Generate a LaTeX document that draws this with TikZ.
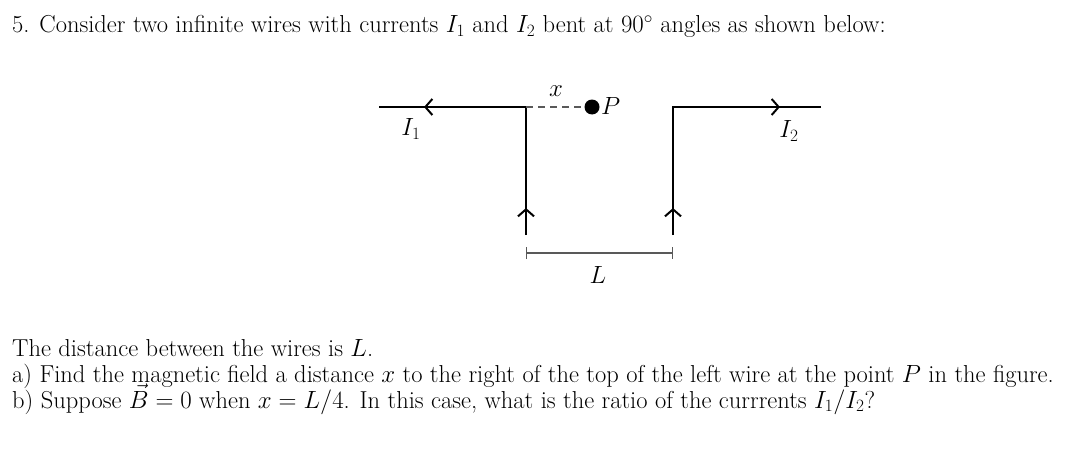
\documentclass[tikz,border=0pt]{standalone}
\usetikzlibrary{arrows.meta}
\begin{document}
\begin{tikzpicture}[x=1pt,y=-1pt,
  wire/.style={line width=2.6pt},
  warrow/.style={wire,-{Straight Barb[length=7pt,width=16pt,line width=2pt]}},
  txt/.style={anchor=base west,inner sep=0pt,font=\fontsize{24.5}{29}\selectfont},
  lab/.style={inner sep=0pt,font=\fontsize{27}{32}\selectfont}]
\useasboundingbox (0,0) rectangle (1082,452);
\coordinate (A1) at (379,107); \coordinate (C1) at (526,107); \coordinate (B1) at (526,235);
\coordinate (A2) at (821,107); \coordinate (C2) at (673,107); \coordinate (B2) at (673,235);
\coordinate (M1) at (424,107); \coordinate (V1) at (526,208);
\coordinate (M2) at (780,107); \coordinate (V2) at (673,208);
\draw[wire] (A1) -- (C1) -- (B1);
\draw[wire] (A2) -- (C2) -- (B2);
\draw[warrow] (C1) -- (M1);
\draw[warrow] (B1) -- (V1);
\draw[warrow] (C2) -- (M2);
\draw[warrow] (B2) -- (V2);
\node[circle,fill,inner sep=0pt,minimum size=15pt] (P) at (592,107) {};
\draw[gray!70!black,line width=1.1pt,dash pattern=on 7pt off 5pt] (C1) -- (P);
\node[lab,anchor=west] (Pl) at (601,106) {$P$};
\node[lab] (xl) at (556,91) {$x$};
\node[lab] (i1) at (411,129) {$I_1$};
\node[lab] (i2) at (789,131) {$I_2$};
\coordinate (L1) at (526,253); \coordinate (L2) at (673,253);
\draw[gray!70!black,line width=1.1pt,{Bar[width=12pt]}-{Bar[width=12pt]}] (L1) -- (L2);
\node[lab] (Ll) at (598,275) {$L$};
\node[txt] (t0) at (12,33) {5. Consider two infinite wires with currents $I_1$ and $I_2$ bent at $90^\circ$ angles as shown below:};
\node[txt] (t1) at (12,356) {The distance between the wires is $L$.};
\node[txt] (t2) at (12,382) {a) Find the magnetic field a distance $x$ to the right of the top of the left wire at the point $P$ in the figure.};
\node[txt] (t3) at (12,408) {b) Suppose $\vec{B}=0$ when $x=L/4$. In this case, what is the ratio of the currrents $I_1/I_2$?};
\end{tikzpicture}
\end{document}
